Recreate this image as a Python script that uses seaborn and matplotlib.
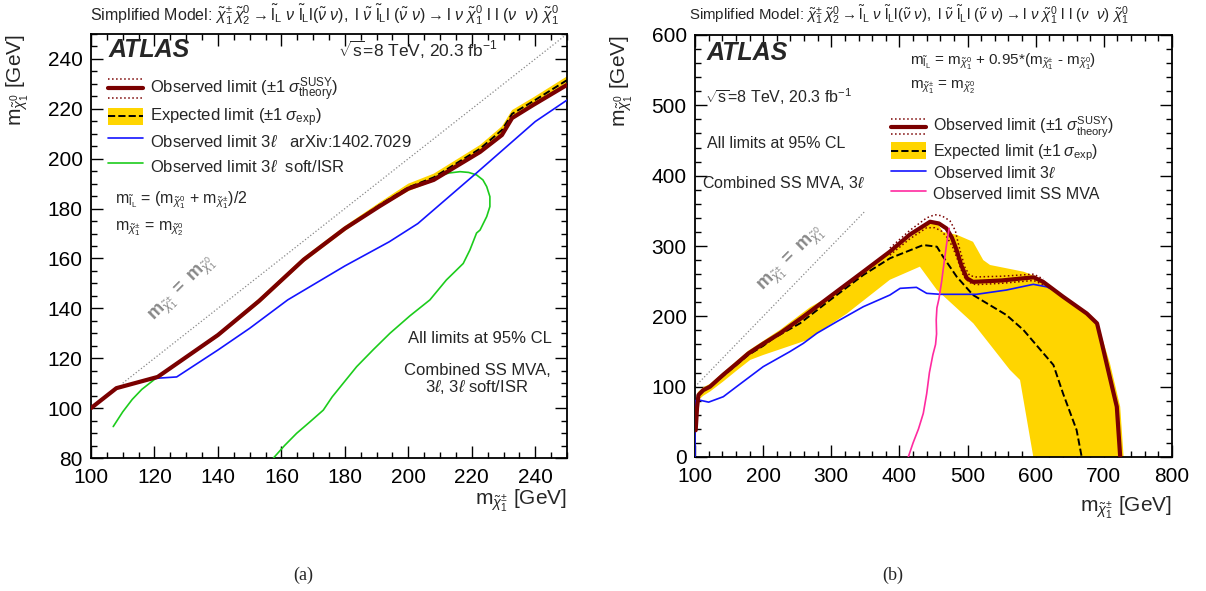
import numpy as np
import pandas as pd
import matplotlib
matplotlib.use("Agg")
import matplotlib.pyplot as plt
import seaborn as sns
from matplotlib.lines import Line2D
from matplotlib.patches import Patch
from matplotlib.legend_handler import HandlerBase
from matplotlib.ticker import MultipleLocator

# ---------------- data: panel (a) ----------------
a_obs_x = [100, 108, 121, 140, 153, 167, 180, 191, 200, 208, 222.6, 229.5, 232.7, 239.3, 250]
a_obs_y = [100, 108, 112.5, 129.3, 143, 159.5, 172, 181, 188, 191.5, 202.7, 209.5, 216.3, 221.5, 229.6]
a_exp_y = [100, 108, 112.5, 129.3, 143, 159.5, 172, 181.5, 188.5, 192.5, 204, 211.5, 218, 223, 231.5]
a_band_hi = [100.5, 108.5, 113, 130, 144, 160.5, 173, 182.5, 190, 194, 205.5, 213, 219.5, 224.5, 233]
a_band_lo = [99.5, 107.5, 112, 128.5, 142, 158.5, 171, 180.5, 187, 191, 202.5, 210, 216.5, 221.5, 230]
a_3l_x = [108, 115, 121, 127, 140, 150, 162, 180, 194, 203, 221.5, 240, 250]
a_3l_y = [108, 110.5, 112, 112.5, 123.3, 132, 143.4, 157, 166.7, 174, 194.3, 214.9, 223.5]
a_isr1_x = [107, 110, 113, 116, 120.5]
a_isr1_y = [92.6, 98.5, 103.5, 107.5, 112]
a_isr2_x = [209, 213, 216.3, 219, 221.5, 223.5, 224.7, 225.7, 225.7, 224.7, 222.6, 221.5, 219.4, 217.3,
            214.5, 212, 206.8, 200.5, 194.2, 189, 183.7, 179.5, 176, 173.2, 169, 164.8, 161, 157.5]
a_isr2_y = [193, 194.3, 194.8, 194.5, 193.5, 191.5, 188.8, 184.8, 180.8, 176.8, 171.4, 170.2, 163.4, 158,
            154.5, 151.4, 143.4, 137, 130, 123.5, 116.6, 110, 104.5, 99.2, 94.5, 89.9, 85, 80]
a_diag = [110, 250]

# ---------------- data: panel (b) ----------------
b_obs_x = [101, 103, 105, 112, 122, 141.5, 160, 178, 200, 225, 259, 298, 347, 386, 415, 445, 458, 469, 477, 484,
           491, 499, 508, 550, 597, 611, 640, 675, 690, 697, 704, 712, 719, 724]
b_obs_y = [38, 70, 88, 95, 100, 117, 132, 147, 161, 176, 199.5, 228, 263.5, 292, 316, 334.5, 332, 325, 312, 294,
           272, 254, 249, 251, 255.5, 249, 228, 204, 190, 162, 133, 100, 71.5, 0]
b_thup_x = [386, 415, 440, 452, 462, 474, 482, 486, 490, 496, 503, 512, 550, 597, 611]
b_thup_y = [297, 322, 340, 344.5, 343, 336, 322, 305, 290, 270, 258, 256, 257, 260, 253]
b_thdn_x = [386, 415, 440, 452, 462, 470, 478, 486, 494, 503, 512, 550, 597, 611]
b_thdn_y = [287, 310, 326, 326, 321, 312, 299, 279, 257, 248, 245, 247, 251, 245]
b_exp_x = [101, 103, 105, 112, 122, 141, 178, 200, 215, 254, 298, 347, 386, 435, 455, 464, 484, 508, 557, 582,
           626, 640, 660, 667.5]
b_exp_y = [38, 70, 88, 95, 100, 115, 145, 158, 168.8, 190, 223, 258.8, 282.5, 301.4, 299, 284.8, 256.4, 230.3,
           201.9, 180.6, 130.8, 90.6, 38.4, 0]
b_bhi_x = [101, 104, 112, 122, 141, 178, 200, 225, 269, 300, 347, 386, 415, 440, 455, 464, 484, 508, 523, 533,
           582, 601.5, 611, 675, 690, 709, 724, 729]
b_bhi_y = [42, 92, 99, 104, 120, 151, 165, 181, 213, 230, 262, 290, 312, 330, 333, 320, 316, 306, 280, 273,
           263.5, 256.4, 250, 206, 193, 133, 71.5, 0]
b_blo_x = [101, 104, 112, 122, 141, 160, 181, 200, 264, 323, 386, 430, 455, 508.5, 562, 577, 596.5]
b_blo_y = [34, 80, 87, 93, 107, 122, 138, 145, 166, 204, 252, 270.6, 237.5, 190, 124, 109.5, 0]
b_3l_x = [100, 100, 106, 120, 141.5, 161, 200, 239, 259, 279, 308, 347, 386, 401, 425, 440, 460, 513, 557, 596.5,
          616, 625]
b_3l_y = [0, 80, 81, 78, 85.7, 100, 128.4, 149.7, 161.6, 176, 192.4, 213.7, 230.3, 239.8, 241.2, 232.7, 231.3,
          231.3, 237.4, 245.5, 242, 238]
b_ss_x = [413, 420, 428, 435, 440, 444, 449, 453, 454.5, 454, 455, 458, 462, 466, 470, 473]
b_ss_y = [0, 20, 40, 62, 90, 120, 145, 160, 175, 195, 212, 225, 250, 280, 308, 325]
b_diag = [100, 350]

# ---------------- style ----------------
sns.set_theme(style="ticks")
plt.rcParams["font.family"] = ["Liberation Sans", "DejaVu Sans"]
plt.rcParams["mathtext.fontset"] = "custom"
plt.rcParams["mathtext.rm"] = "Liberation Sans"
plt.rcParams["mathtext.it"] = "Liberation Sans:italic"
plt.rcParams["mathtext.bf"] = "Liberation Sans:bold"
plt.rcParams["mathtext.sf"] = "Liberation Sans"

RED = "#7a0000"
GOLD = "#ffd500"
BLUE = "#1414ff"
GREEN = "#1ccc1c"
PINK = "#ff2aa0"

fig = plt.figure(figsize=(12.06, 5.91), dpi=100)
axA = fig.add_axes([91 / 1206, 1 - 458 / 591, 476 / 1206, 424 / 591])
axB = fig.add_axes([695 / 1206, 1 - 457 / 591, 477 / 1206, 422 / 591])


class HandlerObs(HandlerBase):
    def __init__(self, off=0.4):
        super().__init__()
        self.off = off

    def create_artists(self, legend, orig_handle, xdescent, ydescent, width, height, fontsize, trans):
        y0 = height / 2 - ydescent
        arts = []
        for dy, ls, lw in [(0, "-", 3.0), (height * self.off, ":", 1.1), (-height * self.off, ":", 1.1)]:
            l = Line2D([-xdescent, width - xdescent], [y0 + dy, y0 + dy], color=RED, lw=lw, ls=ls)
            l.set_transform(trans)
            arts.append(l)
        return arts


class HandlerExp(HandlerBase):
    def __init__(self, frac=0.8):
        super().__init__()
        self.frac = frac

    def create_artists(self, legend, orig_handle, xdescent, ydescent, width, height, fontsize, trans):
        h = height * self.frac
        y0 = height / 2 - ydescent
        p = matplotlib.patches.Rectangle((-xdescent, y0 - h / 2), width, h, facecolor=GOLD, edgecolor="none",
                                         transform=trans)
        l = Line2D([-xdescent, width - xdescent], [y0, y0], color="black", ls="--", lw=1.4)
        l.set_transform(trans)
        return [p, l]


def line(ax, x, y, **kw):
    sns.lineplot(x=x, y=y, sort=False, estimator=None, ax=ax, legend=False, **kw)


def style_axes(ax, xmaj, xmin, ymaj, ymin):
    ax.xaxis.set_major_locator(MultipleLocator(xmaj))
    ax.xaxis.set_minor_locator(MultipleLocator(xmin))
    ax.yaxis.set_major_locator(MultipleLocator(ymaj))
    ax.yaxis.set_minor_locator(MultipleLocator(ymin))
    ax.tick_params(which="both", direction="in", top=True, right=True, width=1.0, colors="black")
    ax.tick_params(which="major", length=8.5, labelsize=15, pad=6)
    ax.tick_params(which="minor", length=4.5)
    ax.tick_params(axis="x", which="major", pad=7)
    for s in ax.spines.values():
        s.set_linewidth(1.3)
        s.set_color("black")
    ax.set_facecolor("white")


obs_proxy = Line2D([], [], color=RED)
exp_proxy = Patch(facecolor=GOLD)
lab_obs = r"Observed limit ($\pm1\;\sigma^{\mathrm{SUSY}}_{\mathrm{theory}}$)"
lab_exp = r"Expected limit ($\pm1\;\sigma_{\mathrm{exp}}$)"

chi1pm = r"\tilde{\chi}^{\pm}_{1}"
chi10 = r"\tilde{\chi}^{0}_{1}"
chi20 = r"\tilde{\chi}^{0}_{2}"

# ---------------- panel (a) ----------------
ax = axA
ax.fill(a_obs_x + a_obs_x[::-1], a_band_hi + a_band_lo[::-1], color=GOLD, lw=0, zorder=1)
line(ax, a_obs_x, a_exp_y, color="black", lw=1.4, linestyle="--", zorder=2)
line(ax, a_isr1_x, a_isr1_y, color=GREEN, lw=1.2, zorder=3)
line(ax, a_isr2_x, a_isr2_y, color=GREEN, lw=1.2, zorder=3)
line(ax, a_3l_x, a_3l_y, color=BLUE, lw=1.2, zorder=3)
line(ax, a_obs_x, a_obs_y, color=RED, lw=3.0, zorder=5)
line(ax, a_diag, a_diag, color="#888888", lw=0.9, linestyle=":", zorder=1)
ax.set_xlim(100, 250)
ax.set_ylim(80, 250)
style_axes(ax, 20, 5, 20, 5)
ax.set_xlabel(r"$\mathrm{m}_{" + chi1pm + r"}$ [GeV]", fontsize=15, loc="right")
ax.xaxis.set_label_coords(1.0, -0.07)
ax.set_ylabel(r"$\mathrm{m}_{" + chi10 + r"}$ [GeV]", fontsize=15, loc="top")
ax.yaxis.set_label_coords(-0.125, 1.0)

ax.text(0.036, 0.962, "ATLAS", transform=ax.transAxes, fontsize=18, fontweight="bold", style="italic",
        va="center", ha="left")
ax.text(0.519, 0.962, r"$\sqrt{\mathrm{s}}$=8 TeV, 20.3 fb$^{-1}$", transform=ax.transAxes, fontsize=12.5,
        va="center", ha="left")
ax.text(0.05, 0.608, r"$\mathrm{m}_{\tilde{\mathrm{l}}_{\mathrm{L}}}$ = ($\mathrm{m}_{" + chi10 + r"}$ + $\mathrm{m}_{" + chi1pm + r"}$)/2",
        transform=ax.transAxes, fontsize=11.5, va="center", ha="left")
ax.text(0.05, 0.542, r"$\mathrm{m}_{" + chi1pm + r"}$ = $\mathrm{m}_{" + chi20 + r"}$",
        transform=ax.transAxes, fontsize=11.5, va="center", ha="left")
ax.text(0.968, 0.283, "All limits at 95% CL", transform=ax.transAxes, fontsize=12, va="center", ha="right")
ax.text(0.811, 0.184, "Combined SS MVA,\n" + r"3$\ell$, 3$\ell$ soft/ISR", transform=ax.transAxes, fontsize=12,
        va="center", ha="center", multialignment="center", linespacing=1.0)
ax.text(129, 147.4, r"$\mathbf{m}_{" + chi1pm + r"}\mathbf{\ =\ m}_{" + chi10 + r"}$", fontsize=13,
        color="#888888", rotation=45, ha="center", va="center")

hA = [obs_proxy, exp_proxy, Line2D([], [], color=BLUE, lw=1.2), Line2D([], [], color=GREEN, lw=1.2)]
lA = [lab_obs, lab_exp, r"Observed limit 3$\ell$   arXiv:1402.7029", r"Observed limit 3$\ell$  soft/ISR"]
ax.legend(hA, lA, loc="upper left", bbox_to_anchor=(0.035, 0.902), frameon=False, fontsize=12,
          handlelength=2.1, handleheight=1.9, handletextpad=0.45, labelspacing=0.0, borderpad=0,
          borderaxespad=0, handler_map={obs_proxy: HandlerObs(0.39), exp_proxy: HandlerExp(0.7)})

# ---------------- panel (b) ----------------
ax = axB
ax.fill(b_bhi_x + b_blo_x[::-1], b_bhi_y + b_blo_y[::-1], color=GOLD, lw=0, zorder=1)
line(ax, b_exp_x, b_exp_y, color="black", lw=1.4, linestyle="--", zorder=2)
line(ax, b_3l_x, b_3l_y, color=BLUE, lw=1.2, zorder=3)
line(ax, b_thup_x, b_thup_y, color=RED, lw=1.1, linestyle=":", zorder=4)
line(ax, b_thdn_x, b_thdn_y, color=RED, lw=1.1, linestyle=":", zorder=4)
line(ax, b_obs_x, b_obs_y, color=RED, lw=3.0, zorder=5)
line(ax, b_ss_x, b_ss_y, color=PINK, lw=1.2, zorder=6)
line(ax, b_diag, b_diag, color="#888888", lw=0.9, linestyle=":", zorder=1)
ax.set_xlim(100, 800)
ax.set_ylim(0, 600)
style_axes(ax, 100, 20, 100, 20)
ax.set_xlabel(r"$\mathrm{m}_{" + chi1pm + r"}$ [GeV]", fontsize=15, loc="right")
ax.xaxis.set_label_coords(1.0, -0.09)
ax.set_ylabel(r"$\mathrm{m}_{" + chi10 + r"}$ [GeV]", fontsize=15, loc="top")
ax.yaxis.set_label_coords(-0.125, 1.0)

ax.text(0.025, 0.957, "ATLAS", transform=ax.transAxes, fontsize=18, fontweight="bold", style="italic",
        va="center", ha="left")
ax.text(0.451, 0.936, r"$\mathrm{m}_{\tilde{\mathrm{l}}_{\mathrm{L}}}$ = $\mathrm{m}_{" + chi10 + r"}$ + 0.95*($\mathrm{m}_{" + chi1pm +
        r"}$ - $\mathrm{m}_{" + chi10 + r"}$)", transform=ax.transAxes, fontsize=11, va="center", ha="left")
ax.text(0.451, 0.877, r"$\mathrm{m}_{" + chi1pm + r"}$ = $\mathrm{m}_{" + chi20 + r"}$",
        transform=ax.transAxes, fontsize=11, va="center", ha="left")
ax.text(0.021, 0.853, r"$\sqrt{\mathrm{s}}$=8 TeV, 20.3 fb$^{-1}$", transform=ax.transAxes, fontsize=11.5,
        va="center", ha="left")
ax.text(0.025, 0.744, "All limits at 95% CL", transform=ax.transAxes, fontsize=11.5, va="center", ha="left")
ax.text(0.015, 0.649, r"Combined SS MVA, 3$\ell$", transform=ax.transAxes, fontsize=11.5, va="center", ha="left")
ax.text(242, 280, r"$\mathbf{m}_{" + chi1pm + r"}\mathbf{\ =\ m}_{" + chi10 + r"}$", fontsize=13,
        color="#888888", rotation=45, ha="center", va="center")

hB = [obs_proxy, exp_proxy, Line2D([], [], color=BLUE, lw=1.2), Line2D([], [], color=PINK, lw=1.2)]
lB = [lab_obs, lab_exp, r"Observed limit 3$\ell$", "Observed limit SS MVA"]
ax.legend(hB, lB, loc="upper left", bbox_to_anchor=(0.41, 0.81), frameon=False, fontsize=11.5,
          handlelength=2.2, handleheight=1.64, handletextpad=0.45, labelspacing=0.0, borderpad=0,
          borderaxespad=0, handler_map={obs_proxy: HandlerObs(0.36), exp_proxy: HandlerExp(0.8)})

# ---------------- titles and captions ----------------
title = (r"Simplified Model: $\tilde{\chi}^{\pm}_{1}\,\tilde{\chi}^{0}_{2}\rightarrow\tilde{\mathrm{l}}_{\mathrm{L}}\ \nu\ "
         r"\tilde{\mathrm{l}}_{\mathrm{L}}\mathrm{l}(\tilde{\nu}\ \nu),\ \mathrm{l}\ \tilde{\nu}\ \tilde{\mathrm{l}}_{\mathrm{L}}"
         r"\mathrm{l}\ (\tilde{\nu}\ \nu)\rightarrow\mathrm{l}\ \nu\ \tilde{\chi}^{0}_{1}\ \mathrm{l}\ \mathrm{l}\ (\nu\ \ \nu)\ "
         r"\tilde{\chi}^{0}_{1}$")
fig.text(90 / 1206, 1 - 15 / 591, title, fontsize=11.5, ha="left", va="center")
fig.text(689 / 1206, 1 - 15 / 591, title, fontsize=10.8, ha="left", va="center")
fig.text(303 / 1206, 1 - 575 / 591, "(a)", fontsize=13, family="Liberation Serif", ha="center", va="center")
fig.text(893 / 1206, 1 - 575 / 591, "(b)", fontsize=13, family="Liberation Serif", ha="center", va="center")

fig.savefig("out.png", dpi=100, facecolor="white")
